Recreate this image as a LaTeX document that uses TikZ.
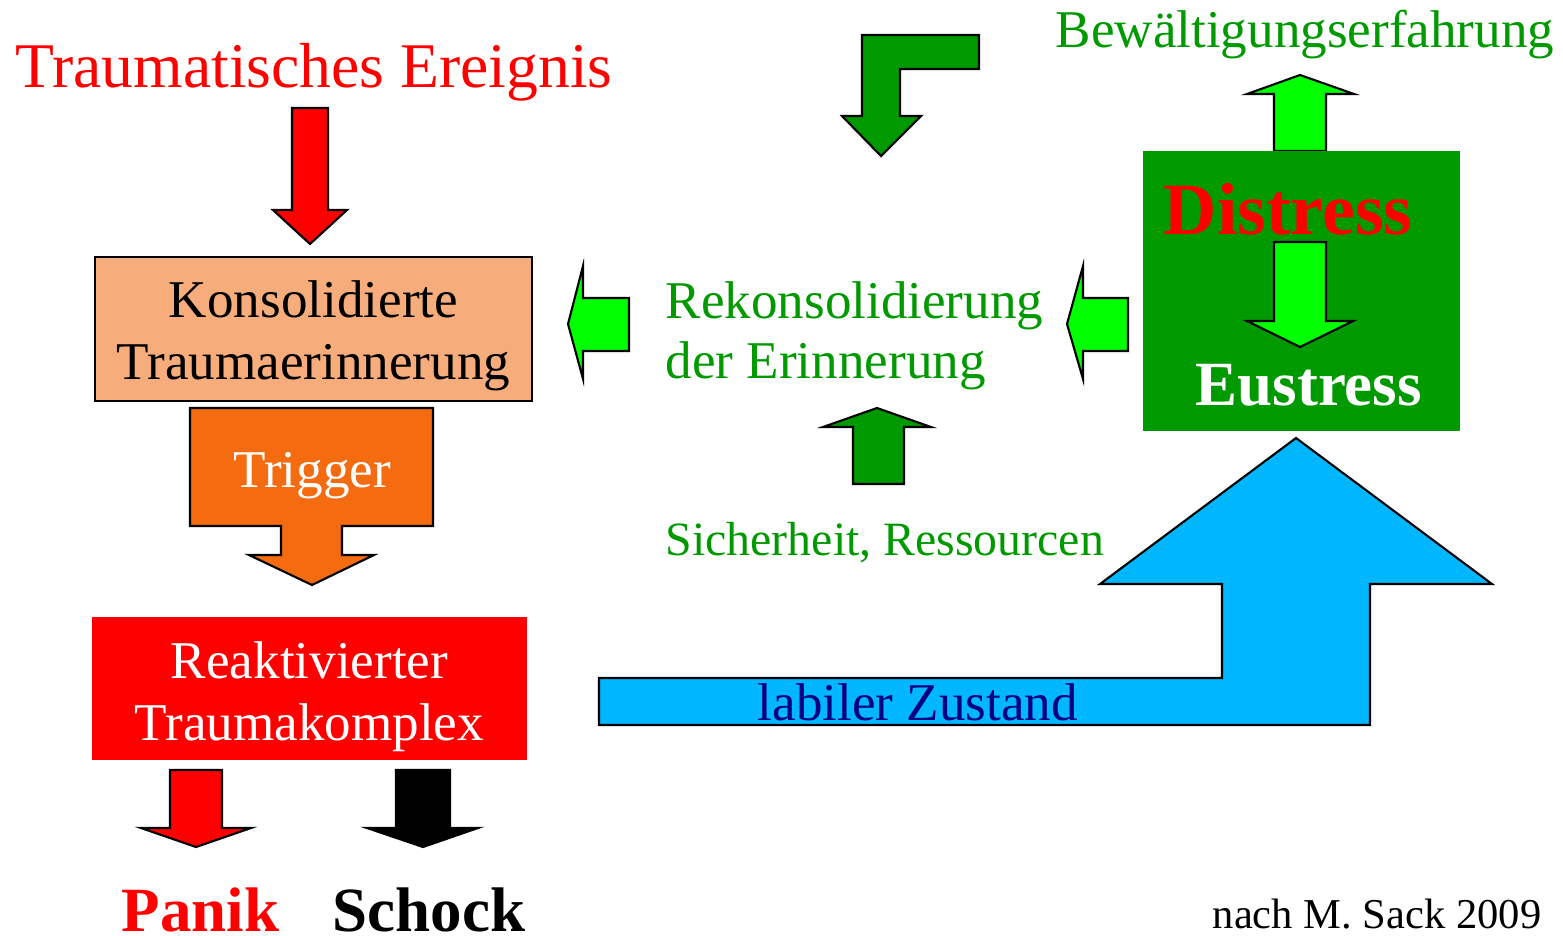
\documentclass[tikz,border=0pt]{standalone}
\usepackage{fontspec}
\setmainfont{Liberation Serif}
\definecolor{darkgreen}{HTML}{009900}
\definecolor{lightgreen}{HTML}{00FF00}
\definecolor{skyblue}{HTML}{00B7FF}
\definecolor{peach}{HTML}{F6AD7B}
\definecolor{triggerorange}{HTML}{F46B10}
\definecolor{navyblue}{HTML}{000080}

\begin{document}
\begin{tikzpicture}[
    x=0.01cm, y=-0.01cm,
    blockarrow/.style={draw=black, line width=0.6pt, line join=miter},
    txt/.style={inner sep=0pt, anchor=base west, font=\fontsize{15.1}{17.1}\selectfont},
    boxtxt/.style={inner sep=0pt, align=center, font=\fontsize{15.1}{17.6}\selectfont},
    bigtxt/.style={inner sep=0pt, anchor=base west, font=\fontsize{17.9}{20}\selectfont\bfseries}
]
\useasboundingbox (0,0) rectangle (1563,936);

% left column
\node[txt, text=red, font=\fontsize{18.1}{20}\selectfont] (event) at (15,87) {Traumatisches Ereignis};
\draw[blockarrow, fill=red] (292,108) -- (328,108) -- (328,210) -- (347,210) -- (310,244)
    -- (273,210) -- (292,210) -- cycle;
\node[draw=black, line width=0.6pt, fill=peach, minimum width=4.37cm, minimum height=1.44cm]
    (memory) at (313.5,329) {};
\node[boxtxt] (memorytext) at (313.5,336) {Konsolidierte\\Traumaerinnerung};
\draw[blockarrow, fill=triggerorange] (190,408) -- (433,408) -- (433,526) -- (342,526) -- (342,555)
    -- (374,555) -- (312,585) -- (249,555) -- (281,555) -- (281,526) -- (190,526) -- cycle;
\node[txt, text=white] (trigger) at (233,487) {Trigger};
\node[fill=red, minimum width=4.35cm, minimum height=1.43cm] (complex) at (309.5,688.5) {};
\node[boxtxt, text=white] (complextext) at (309.5,696.5) {Reaktivierter\\Traumakomplex};
\draw[blockarrow, fill=red] (170,770) -- (222,770) -- (222,828) -- (251,828) -- (196,847)
    -- (141,828) -- (170,828) -- cycle;
\draw[blockarrow, fill=black] (396,770) -- (450,770) -- (450,828) -- (478,828) -- (423,847)
    -- (367,828) -- (396,828) -- cycle;
\node[bigtxt, text=red] (panik) at (121,931) {Panik};
\node[bigtxt] (schock) at (332,931) {Schock};

% middle column
\draw[blockarrow, fill=darkgreen] (979,35) -- (979,69) -- (900,69) -- (900,116) -- (921,116)
    -- (881,156) -- (842,116) -- (862,116) -- (862,35) -- cycle;
\draw[blockarrow, fill=lightgreen] (629,298) -- (629,351) -- (583,351) -- (583,379) -- (568,324)
    -- (583,266) -- (583,298) -- cycle;
\node[txt, text=darkgreen, align=left, anchor=north west] (recons) at (665,281)
    {Rekonsolidierung\\der Erinnerung};
\draw[blockarrow, fill=lightgreen] (1128,298) -- (1128,351) -- (1083,351) -- (1083,379) -- (1067,324)
    -- (1083,266) -- (1083,298) -- cycle;
\draw[blockarrow, fill=darkgreen] (853,484) -- (904,484) -- (904,427) -- (931,427) -- (877,408)
    -- (823,427) -- (853,427) -- cycle;
\node[txt, text=darkgreen, font=\fontsize{13.6}{15}\selectfont] (safety) at (665,555) {Sicherheit, Ressourcen};

% right column
\node[txt, text=darkgreen] (coping) at (1055,47) {Bewältigungserfahrung};
\draw[blockarrow, fill=lightgreen] (1274,151) -- (1326,151) -- (1326,94) -- (1354,94) -- (1300,75)
    -- (1247,94) -- (1274,94) -- cycle;
\fill[darkgreen] (1143,151) rectangle (1460,431);
\draw[blockarrow, fill=lightgreen] (1274,242) -- (1326,242) -- (1326,321) -- (1353,321) -- (1300,347)
    -- (1247,321) -- (1274,321) -- cycle;
\node[bigtxt, text=red, font=\fontsize{21}{23}\selectfont\bfseries] (distress) at (1163,234) {Distress};
\node[bigtxt, text=white] (eustress) at (1195,405) {Eustress};
\draw[blockarrow, fill=skyblue] (599,678) -- (1222,678) -- (1222,584) -- (1100,584) -- (1296,438)
    -- (1492,584) -- (1370,584) -- (1370,725) -- (599,725) -- cycle;
\node[txt, text=navyblue] (labile) at (757,720) {labiler Zustand};
\node[inner sep=0pt, anchor=base east, font=\fontsize{12.1}{14}\selectfont] (source) at (1542,928)
    {nach M. Sack 2009};
\end{tikzpicture}
\end{document}
